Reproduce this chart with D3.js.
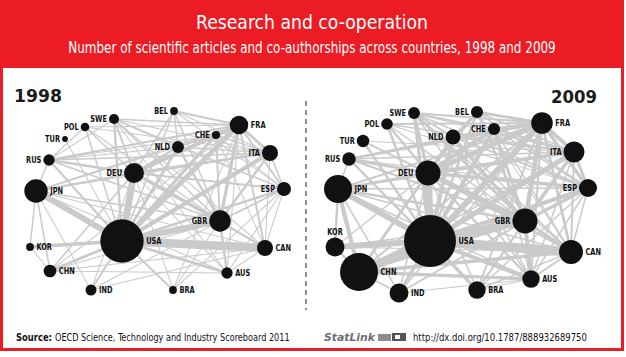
<!DOCTYPE html>
<html>
<head>
<meta charset="utf-8">
<script src="https://cdn.jsdelivr.net/npm/d3@7"></script>
<style>
html,body{margin:0;padding:0;background:#fff;}
svg{display:block;}
</style>
</head>
<body>
<svg id="chart" width="626" height="357"></svg>
<script>
// ---------- DATA ----------
const countries = ["USA","GBR","DEU","FRA","JPN","CAN","ITA","ESP","NLD","CHE","SWE","BEL","POL","TUR","RUS","CHN","KOR","IND","BRA","AUS"];

// scientific articles (thousands)
const articles1998 = [279,68,59,51,81,38,38,29,21,10,15,9,11,5,19,24,9,18,9,19];
const articles2009 = [400,93,93,69,116,85,65,48,33,22,21,22,20,23,27,214,53,53,45,45];

// network layout (abstract layout units)
const layout1998X = [122,220,134,239,36,265,270,284,178,216,114,174,85,65,49,50,30,91,173,227];
const layout1998Y = [141,121,73,25,91,148,53,89,47,35,19,11,27,39,60,171,147,190,190,173];
const layout2009X = [130,225,128,242,38,271,274,288,153,194,114,177,87,63,49,59,35,99,177,231];
const layout2009Y = [141,121,73,23,89,152,52,88,37,29,13,12,24,41,59,172,147,193,190,179];

// label placement
const labelSide1998 = ["right","left","left","right","right","right","left","left","left","left","left","left","left","left","left","right","right","right","right","right"];
const labelSide2009 = ["right","left","left","right","right","right","left","left","left","left","left","left","left","left","left","right","top","right","right","right"];

// co-authorships (relative intensity, estimated from line widths)
const edges1998 = [
["USA","CAN",9],["USA","DEU",7],["USA","JPN",6],["USA","GBR",6],["USA","FRA",5],["USA","ITA",4],["USA","KOR",3],["USA","CHE",3],["USA","CHN",2.5],["USA","AUS",2.5],["USA","NLD",2.5],["USA","ESP",2],["USA","SWE",2],["USA","RUS",1.5],["USA","IND",1.5],["USA","BRA",1.5],["USA","BEL",1],["USA","POL",1],["USA","TUR",0.5],
["DEU","FRA",3.5],["DEU","GBR",3.5],["GBR","FRA",3],["DEU","CHE",2.5],["DEU","ITA",2],["DEU","RUS",2],["DEU","NLD",2],["DEU","JPN",1.5],["DEU","ESP",1.5],["DEU","SWE",1.5],["DEU","POL",1],["DEU","CAN",1],["DEU","CHN",1],["DEU","BEL",1],["DEU","AUS",0.5],["DEU","IND",0.5],["DEU","BRA",0.5],
["FRA","ITA",2.5],["FRA","CHE",2],["FRA","ESP",1.5],["FRA","BEL",1.5],["FRA","RUS",1.5],["FRA","CAN",1.5],["FRA","JPN",1],["FRA","NLD",1],["FRA","SWE",1],["FRA","POL",0.5],["FRA","BRA",0.5],["FRA","AUS",0.5],["FRA","CHN",0.5],
["GBR","ITA",2],["GBR","NLD",2],["GBR","AUS",2],["GBR","CAN",1.5],["GBR","ESP",1.5],["GBR","CHE",1.5],["GBR","JPN",1],["GBR","SWE",1],["GBR","RUS",1],["GBR","BEL",1],["GBR","IND",0.5],["GBR","CHN",0.5],["GBR","BRA",0.5],["GBR","POL",0.5],
["ITA","ESP",1],["ITA","CHE",1],["ITA","RUS",1],["ITA","NLD",1],["ITA","CAN",0.5],["ITA","SWE",0.5],["ITA","JPN",0.5],
["JPN","CHN",1],["JPN","KOR",1],["JPN","RUS",1],["JPN","CAN",0.5],["JPN","IND",0.5],["JPN","AUS",0.5],["JPN","CHE",0.5],
["CAN","AUS",0.5],["CAN","CHN",0.5],["CAN","ESP",0.5],["CAN","CHE",0.5],
["CHN","AUS",0.5],["CHN","KOR",0.5],
["NLD","BEL",1],["NLD","CHE",0.5],["NLD","SWE",1],["NLD","RUS",0.5],["NLD","ESP",0.5],
["SWE","RUS",0.5],["SWE","CAN",0.5],["SWE","ESP",0.5],["SWE","AUS",0.5],
["POL","RUS",0.5],["POL","ITA",0.5],
["ESP","CHE",0.5],["ESP","AUS",0.5],["BEL","ITA",0.5],["BEL","ESP",0.5],["RUS","CHE",0.5],["IND","CAN",0.5],["BRA","ESP",0.5]
];

const edges2009 = [
["USA","CAN",10],["USA","CHN",9],["USA","GBR",8],["USA","DEU",8],["USA","JPN",6],["USA","FRA",6],["USA","KOR",6],["USA","ITA",5],["USA","ESP",4],["USA","AUS",4],["USA","NLD",4],["USA","CHE",4],["USA","SWE",3],["USA","IND",3],["USA","BRA",3],["USA","RUS",2],["USA","BEL",2],["USA","POL",2],["USA","TUR",2],
["CHN","JPN",4],["CHN","GBR",3],["CHN","AUS",3],["CHN","CAN",3],["CHN","DEU",2.5],["CHN","KOR",2],["CHN","FRA",1.5],["CHN","IND",1],["CHN","ITA",1],["CHN","ESP",1],
["DEU","GBR",5],["DEU","FRA",5],["GBR","FRA",4.5],["DEU","CHE",4],["DEU","ITA",3.5],["GBR","ITA",3.5],["FRA","ITA",3.5],["DEU","NLD",3],["GBR","NLD",3],["DEU","ESP",3],["GBR","ESP",3],["FRA","ESP",3],["ITA","ESP",2.5],["FRA","CHE",3],["GBR","CHE",2.5],["ITA","CHE",2],["DEU","SWE",2.5],["GBR","SWE",2.5],["FRA","BEL",2.5],["DEU","RUS",2.5],["DEU","JPN",2],["GBR","AUS",3.5],["GBR","CAN",3],["FRA","CAN",2.5],["GBR","JPN",2],["FRA","JPN",1.5],["DEU","POL",2],["DEU","BEL",2],["NLD","BEL",2],["GBR","BEL",2],["DEU","AUS",2],["DEU","CAN",2],["ITA","CAN",1.5],["ESP","CAN",1],["GBR","IND",1.5],["DEU","IND",1],["FRA","RUS",2],["JPN","KOR",2],["KOR","DEU",1],["KOR","GBR",1],["JPN","CAN",1],["JPN","AUS",1],["CAN","AUS",1.5],
["BRA","FRA",1.5],["BRA","GBR",1.5],["BRA","ESP",1],["BRA","DEU",1],["BRA","CAN",1],["BRA","ITA",1],["BRA","AUS",0.5],
["NLD","FRA",2],["NLD","ITA",1.5],["NLD","ESP",1.5],["NLD","SWE",1.5],["NLD","CHE",1.5],["NLD","CAN",1],["AUS","NLD",1],["RUS","NLD",1],
["SWE","FRA",1.5],["SWE","ITA",1],["SWE","ESP",1],["SWE","CAN",1],["SWE","AUS",1],["SWE","CHE",1],
["CHE","ESP",1],["CHE","CAN",1],["AUS","CHE",1],["BEL","ITA",1],["BEL","ESP",1],["BEL","CAN",0.5],
["POL","FRA",1.5],["POL","GBR",1],["POL","ITA",1],["POL","ESP",0.5],["TUR","GBR",1],["TUR","DEU",1],["TUR","ITA",0.5],
["RUS","GBR",1.5],["RUS","ITA",1],["RUS","JPN",1],["RUS","CHE",1],["RUS","ESP",0.5],
["ITA","AUS",1],["ESP","AUS",1],["FRA","AUS",1.5],["IND","JPN",1],["IND","FRA",1],["IND","AUS",0.5],["ITA","JPN",1],["ESP","JPN",1],["KOR","CAN",0.5]
];

// ---------- DRAW ----------
const W = 626, H = 357;
const RED = "#ec1c24";
const svg = d3.select("#chart");
const COND = "'DejaVu Sans Condensed','DejaVu Sans',sans-serif";

// text fitted horizontally to a target width (condensed look)
function fitText(parent, txt, x, y, width, anchor, attrs) {
  const g = parent.append("g");
  const t = g.append("text").attr("x",0).attr("y",0).attr("text-anchor",anchor||"start").text(txt);
  Object.entries(attrs||{}).forEach(([k,v])=>t.attr(k,v));
  const w = t.node().getComputedTextLength();
  const s = width / w;
  g.attr("transform",`translate(${x},${y}) scale(${s},1)`);
  return t;
}

// frame
svg.append("rect").attr("x",0).attr("y",0).attr("width",W).attr("height",H).attr("fill","#fff");
svg.append("rect").attr("x",1.5).attr("y",1.5).attr("width",621).attr("height",348)
  .attr("fill","#fff").attr("stroke",RED).attr("stroke-width",3);
svg.append("rect").attr("x",0).attr("y",0).attr("width",623).attr("height",68).attr("fill",RED);

fitText(svg,"Research and co-operation",312,29,232,"middle",
  {"font-family":COND,"font-size":20,"fill":"#fff"});
fitText(svg,"Number of scientific articles and co-authorships across countries, 1998 and 2009",312,53,488,"middle",
  {"font-family":COND,"font-size":15,"fill":"#fff"});

// scales shared by both years
const rScale = d3.scaleSqrt().domain([0,300]).range([0,22.5]);
const wScale = d3.scaleLinear().domain([0,10]).range([0.6,9.5]);

function drawPanel(offsetX, xs, ys, sizes, edges, sides) {
  const x = d3.scaleLinear().domain([0,300]).range([offsetX, offsetX+300]);
  const y = d3.scaleLinear().domain([0,200]).range([100, 300]);
  const nodes = countries.map((c,i)=>({id:c, x:x(xs[i]), y:y(ys[i]), r:rScale(sizes[i]), side:sides[i]}));
  const byId = new Map(nodes.map(n=>[n.id,n]));
  const g = svg.append("g");
  g.append("g").selectAll("line").data(edges).join("line")
    .attr("x1",d=>byId.get(d[0]).x).attr("y1",d=>byId.get(d[0]).y)
    .attr("x2",d=>byId.get(d[1]).x).attr("y2",d=>byId.get(d[1]).y)
    .attr("stroke","#cacaca").attr("stroke-width",d=>wScale(d[2]));
  g.append("g").selectAll("circle").data(nodes).join("circle")
    .attr("cx",d=>d.x).attr("cy",d=>d.y).attr("r",d=>d.r).attr("fill","#111");
  const lg = g.append("g");
  nodes.forEach(d=>{
    const lx = d.side==="left"? d.x-d.r-2 : d.side==="right"? d.x+d.r+2.5 : d.x;
    const ly = d.side==="top"? d.y-d.r-3 : d.y+3.2;
    const anchor = d.side==="left"?"end":d.side==="right"?"start":"middle";
    const gg = lg.append("g").attr("transform",`translate(${lx},${ly}) scale(0.82,1)`);
    gg.append("text").attr("x",0).attr("y",0).attr("text-anchor",anchor)
      .attr("font-family",COND).attr("font-weight","bold").attr("font-size",9)
      .attr("fill","#111").text(d.id);
  });
}

drawPanel(0, layout1998X, layout1998Y, articles1998, edges1998, labelSide1998);
drawPanel(300, layout2009X, layout2009Y, articles2009, edges2009, labelSide2009);

// year labels
fitText(svg,"1998",14,102,48,"start",{"font-family":"'DejaVu Sans',sans-serif","font-weight":"bold","font-size":18,"fill":"#1a1a1a"});
fitText(svg,"2009",597,103,46,"end",{"font-family":"'DejaVu Sans',sans-serif","font-weight":"bold","font-size":18,"fill":"#1a1a1a"});

// divider
svg.append("line").attr("x1",306).attr("x2",306).attr("y1",101).attr("y2",310)
  .attr("stroke","#222").attr("stroke-width",1).attr("stroke-dasharray","5,4");

// footer
fitText(svg,"Source:",16,341,36,"start",{"font-family":COND,"font-weight":"bold","font-size":10.5,"fill":"#111"});
fitText(svg,"OECD Science, Technology and Industry Scoreboard 2011",55,341,235,"start",{"font-family":COND,"font-size":10.5,"fill":"#111"});
fitText(svg,"StatLink",324,341,51,"start",{"font-family":"'DejaVu Sans',sans-serif","font-style":"italic","font-weight":"bold","font-size":10.5,"fill":"#6d6e71"});
const icon = svg.append("g").attr("fill","#8a8c8f");
icon.append("rect").attr("x",378).attr("y",334).attr("width",13).attr("height",7);
icon.append("rect").attr("x",392).attr("y",333).attr("width",14).attr("height",8).attr("fill","#555");
icon.append("rect").attr("x",395).attr("y",335).attr("width",5).attr("height",4).attr("fill","#fff");
fitText(svg,"http://dx.doi.org/10.1787/888932689750",413,341,174,"start",{"font-family":COND,"font-size":10.5,"fill":"#111"});
</script>
</body>
</html>
